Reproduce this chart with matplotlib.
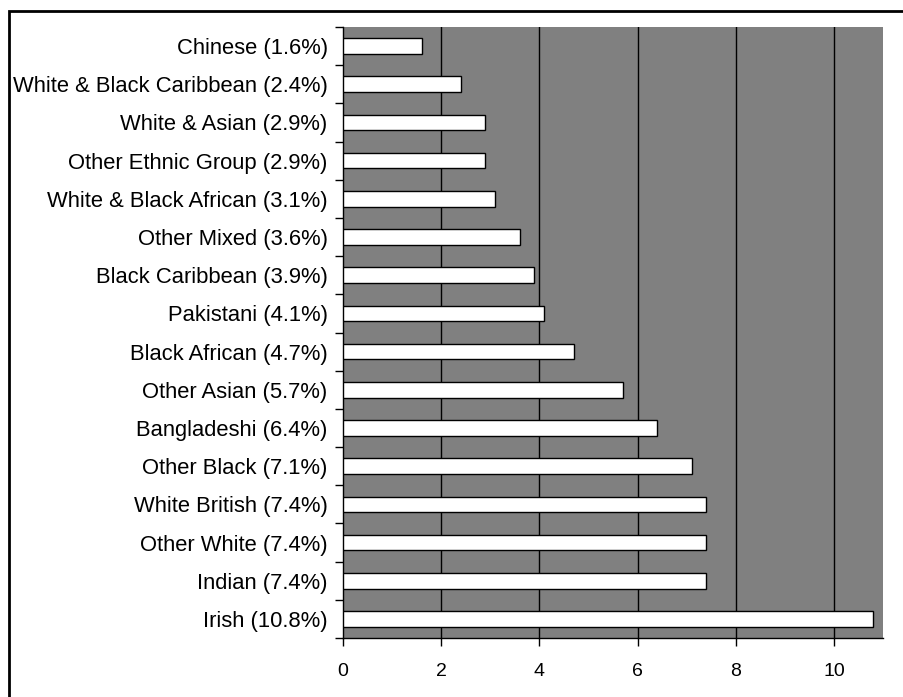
import matplotlib.pyplot as plt
from matplotlib.patches import Rectangle
from matplotlib.ticker import FixedLocator
import numpy as np

plt.rcParams["font.family"] = ["Liberation Sans", "DejaVu Sans"]

labels = [
    "Chinese (1.6%)",
    "White & Black Caribbean (2.4%)",
    "White & Asian (2.9%)",
    "Other Ethnic Group (2.9%)",
    "White & Black African (3.1%)",
    "Other Mixed (3.6%)",
    "Black Caribbean (3.9%)",
    "Pakistani (4.1%)",
    "Black African (4.7%)",
    "Other Asian (5.7%)",
    "Bangladeshi (6.4%)",
    "Other Black (7.1%)",
    "White British (7.4%)",
    "Other White (7.4%)",
    "Indian (7.4%)",
    "Irish (10.8%)",
]
values = [1.6, 2.4, 2.9, 2.9, 3.1, 3.6, 3.9, 4.1, 4.7, 5.7, 6.4, 7.1, 7.4, 7.4, 7.4, 10.8]
xticks = [0, 2, 4, 6, 8, 10]

# bottom of chart = last item
labels_r = labels[::-1]
values_r = values[::-1]
y = np.arange(len(labels_r))

fig = plt.figure(figsize=(9.04, 6.97), dpi=100)
ax = fig.add_axes([343 / 904, 1 - 638 / 697, 540 / 904, 611 / 697])
ax.set_facecolor("#808080")

ax.barh(y, values_r, height=0.41, color="white", edgecolor="black", linewidth=1.0, zorder=3)

ax.set_xlim(0, 11)
ax.set_ylim(-0.5, len(labels_r) - 0.5)
ax.set_xticks(xticks)
ax.set_xticklabels([str(t) for t in xticks], fontsize=14)
for t in xticks[1:]:
    ax.axvline(t, color="black", linewidth=1.0, zorder=1)

ax.set_yticks(y)
ax.set_yticklabels(labels_r, fontsize=15.8)
ax.yaxis.set_minor_locator(FixedLocator(np.arange(len(labels_r) + 1) - 0.5))
ax.tick_params(axis="y", which="major", length=0, pad=11)
ax.tick_params(axis="y", which="minor", length=6, width=1, direction="out")
ax.tick_params(axis="x", length=6, width=1, pad=12, direction="out")

ax.spines["top"].set_visible(False)
ax.spines["right"].set_visible(False)
ax.spines["left"].set_linewidth(1.0)
ax.spines["bottom"].set_linewidth(1.0)

# outer frame
fig.patches.append(
    Rectangle((9 / 904, -0.05), 1.0, 1 - 11 / 697 + 0.05, transform=fig.transFigure,
              fill=False, edgecolor="black", linewidth=2)
)

fig.savefig("out.png", dpi=100)
